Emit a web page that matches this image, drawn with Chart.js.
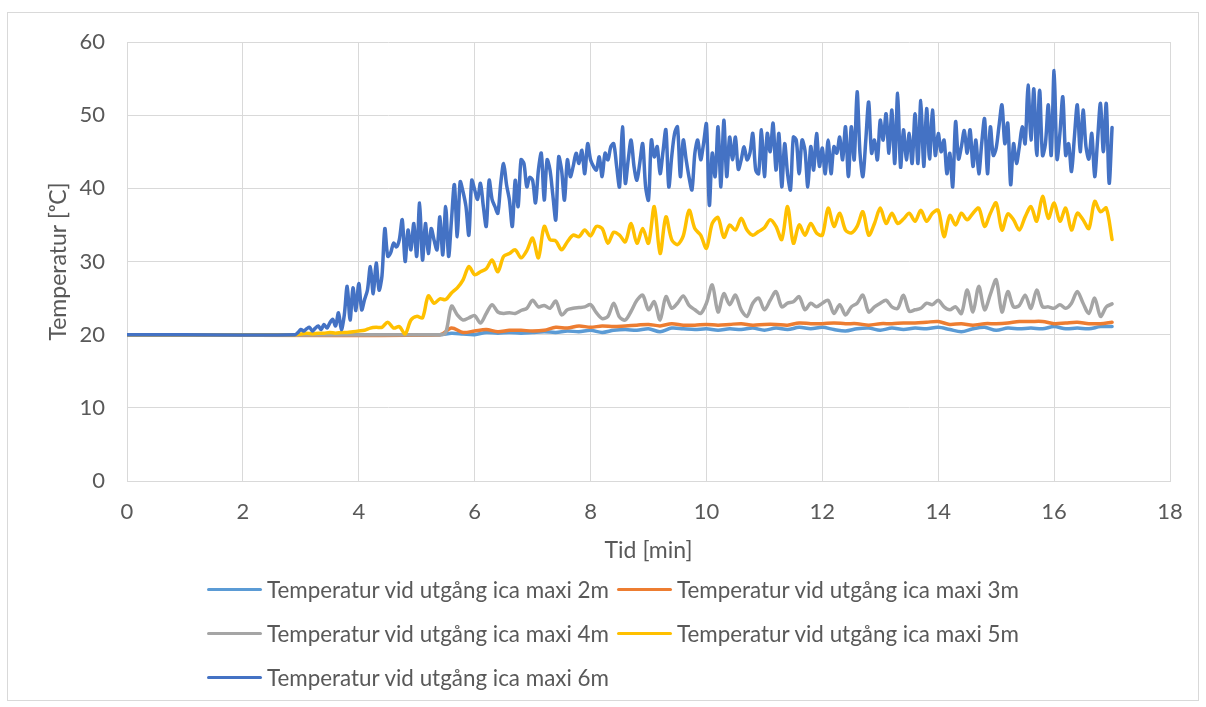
<!DOCTYPE html>
<html>
<head>
<meta charset="utf-8">
<title>Temperatur vid utgång ica maxi</title>
<script src="https://cdn.jsdelivr.net/npm/chart.js@4.4.0/dist/chart.umd.min.js"></script>
<style>
  html, body { margin: 0; padding: 0; background: #fff; }
  #wrap { position: relative; width: 1206px; height: 707px; overflow: hidden; }
  #frame { position: absolute; left: 7px; top: 12px; width: 1192px; height: 689px;
           border: 1px solid #d9d9d9; box-sizing: border-box; }
  canvas { position: absolute; left: 0; top: 0; }
  .item { position: absolute; display: flex; align-items: center; height: 30px;
          font-family: Lato, "Open Sans", sans-serif; font-size: 22.4px; color: #595959; white-space: nowrap; }
  .item .swatch { width: 55px; height: 3px; border-radius: 2px; margin-right: 5px; }
</style>
</head>
<body>
<div id="wrap">
  <div id="frame"></div>
  <canvas id="chart" width="1206" height="707"></canvas>
  <div id="legend"></div>
</div>
<script>
// series names, as in the legend
const seriesNames = [
  "Temperatur vid utgång ica maxi 2m",
  "Temperatur vid utgång ica maxi 3m",
  "Temperatur vid utgång ica maxi 4m",
  "Temperatur vid utgång ica maxi 5m",
  "Temperatur vid utgång ica maxi 6m"
];
const seriesColors = ["#5B9BD5", "#ED7D31", "#A5A5A5", "#FFC000", "#4472C4"];

// sampling of each series (minutes): first sample and spacing
const startTimes = [5.4, 5.4, 5.4, 2.9, 2.9];
const timeSteps = [0.2, 0.2, 0.1, 0.1, 0.05];

// temperatures (°C); all lines sit at 20 before their first sample
const temp2m = [
  20.0, 20.2, 20.1, 20.0, 20.3, 20.2, 20.3, 20.2, 20.3, 20.4,
  20.3, 20.5, 20.4, 20.6, 20.3, 20.6, 20.7, 20.6, 20.8, 20.4,
  20.9, 20.8, 20.7, 20.8, 20.6, 20.8, 20.7, 20.9, 20.6, 20.9,
  20.7, 21.0, 20.8, 21.0, 20.7, 20.5, 20.8, 20.9, 20.6, 20.9,
  20.7, 20.9, 20.8, 21.0, 20.7, 20.4, 20.8, 21.0, 20.6, 20.9,
  20.8, 20.9, 20.8, 21.1, 20.8, 20.9, 20.8, 21.1, 21.1
];
const temp3m = [
  20.0, 20.9, 20.3, 20.5, 20.7, 20.4, 20.6, 20.6, 20.5, 20.6,
  21.0, 20.9, 21.2, 21.0, 21.2, 21.1, 21.2, 21.3, 21.4, 21.2,
  21.5, 21.3, 21.3, 21.4, 21.3, 21.4, 21.5, 21.3, 21.4, 21.4,
  21.3, 21.6, 21.5, 21.5, 21.6, 21.5, 21.5, 21.3, 21.5, 21.5,
  21.6, 21.6, 21.7, 21.8, 21.4, 21.5, 21.3, 21.5, 21.5, 21.6,
  21.8, 21.8, 21.8, 21.5, 21.6, 21.7, 21.5, 21.5, 21.7
];
const temp4m = [
  20.0, 20.3, 23.9, 22.7, 22.0, 22.3, 22.6, 21.6, 22.9, 24.1,
  23.1, 22.9, 23.0, 22.9, 23.3, 23.6, 24.7, 23.8, 24.0, 23.6,
  24.6, 22.7, 23.4, 23.6, 23.7, 23.8, 24.1, 23.0, 22.2, 22.5,
  24.3, 22.4, 22.0, 23.2, 24.7, 25.4, 23.4, 24.5, 22.0, 25.2,
  23.6, 24.3, 25.3, 24.0, 23.4, 22.9, 24.3, 26.8, 23.1, 25.6,
  24.1, 25.4, 23.4, 22.5, 24.3, 25.0, 23.4, 24.7, 25.9, 23.8,
  24.3, 24.5, 25.2, 23.4, 24.3, 23.8, 24.3, 24.7, 22.9, 24.1,
  22.7, 23.8, 24.3, 25.4, 23.1, 23.8, 24.3, 24.7, 23.8, 23.6,
  25.4, 23.2, 23.4, 23.6, 24.3, 24.1, 24.7, 23.8, 23.4, 23.8,
  22.9, 26.1, 23.1, 26.6, 23.4, 25.5, 27.5, 23.1, 25.9, 23.8,
  24.0, 25.4, 23.6, 26.1, 23.8, 23.8, 23.6, 24.1, 23.6, 24.3,
  25.9, 24.3, 22.9, 25.0, 22.5, 23.8, 24.2
];
const temp5m = [
  20.0, 20.1, 20.2, 20.1, 20.2, 20.2, 20.3, 20.2, 20.3, 20.3,
  20.4, 20.5, 20.6, 20.9, 21.0, 21.0, 21.7, 20.9, 21.1, 20.1,
  22.0, 22.5, 22.3, 25.3, 24.3, 24.9, 24.8, 25.7, 26.4, 27.5,
  29.3, 28.2, 28.6, 29.0, 30.2, 28.6, 30.7, 31.1, 31.6, 30.5,
  31.5, 33.2, 30.5, 34.8, 33.0, 32.8, 31.6, 32.7, 33.6, 33.4,
  34.3, 33.5, 34.8, 34.5, 32.5, 34.0, 33.6, 32.7, 35.2, 32.5,
  34.5, 32.5, 37.5, 31.1, 36.1, 33.0, 32.3, 33.5, 37.0, 34.5,
  33.6, 31.8, 35.2, 36.0, 33.3, 35.0, 34.3, 35.9, 34.3, 33.6,
  34.1, 34.6, 35.7, 34.8, 33.0, 37.5, 32.5, 35.0, 33.6, 35.2,
  33.9, 33.6, 37.3, 34.8, 36.6, 34.3, 33.9, 34.8, 36.8, 33.6,
  35.2, 37.3, 35.2, 36.6, 35.2, 35.8, 36.6, 35.5, 37.0, 35.5,
  36.6, 37.0, 33.4, 36.3, 35.0, 36.6, 35.7, 36.6, 37.3, 34.8,
  36.6, 38.0, 34.3, 36.5, 35.7, 34.3, 36.1, 37.5, 35.5, 38.9,
  35.9, 38.0, 35.5, 37.3, 34.3, 36.6, 35.7, 34.5, 38.2, 36.8,
  37.3, 33.0
];
const temp6m = [
  20.0, 20.3, 20.7, 20.5, 20.8, 21.0, 20.5, 20.9, 21.2, 20.7, 21.4, 20.9,
  21.6, 22.1, 21.2, 23.0, 20.7, 22.7, 26.6, 22.0, 26.4, 23.3,
  27.0, 23.4, 24.8, 26.1, 29.3, 25.6, 29.8, 26.1, 28.0, 34.5,
  30.7, 31.2, 32.5, 32.0, 33.0, 35.7, 30.0, 34.3, 31.6, 35.2,
  30.7, 38.0, 30.2, 35.2, 31.1, 34.5, 32.9, 31.6, 36.1, 30.9,
  37.5, 30.7, 35.7, 40.5, 33.4, 40.9, 39.5, 37.5, 33.6, 41.1,
  39.8, 38.5, 40.7, 37.5, 34.8, 41.1, 38.5, 37.5, 36.6, 40.7,
  43.4, 40.5, 38.4, 34.8, 41.1, 37.5, 43.9, 43.4, 40.2, 41.5,
  41.1, 38.0, 42.5, 44.8, 38.4, 43.9, 42.5, 39.0, 35.7, 44.3,
  42.5, 38.4, 43.9, 41.6, 43.0, 44.8, 43.4, 45.2, 42.0, 46.1,
  43.9, 43.0, 42.5, 44.3, 41.6, 44.8, 43.9, 45.7, 46.1, 43.0,
  40.2, 48.4, 40.7, 43.9, 46.6, 43.0, 41.1, 43.5, 46.1, 40.2,
  38.4, 46.6, 44.3, 45.7, 42.0, 45.0, 48.0, 40.2, 44.3, 47.5,
  48.4, 41.6, 46.6, 43.9, 41.5, 39.8, 44.8, 46.6, 43.9, 46.1,
  48.8, 37.7, 44.8, 41.6, 48.4, 40.2, 49.3, 41.6, 47.0, 43.9,
  47.0, 42.6, 43.9, 45.7, 43.9, 44.8, 47.5, 42.5, 42.0, 48.0,
  41.6, 47.5, 45.0, 48.9, 42.5, 47.5, 40.2, 46.1, 42.0, 39.8,
  47.0, 46.6, 42.0, 46.6, 45.2, 40.2, 45.7, 42.5, 47.5, 43.0,
  45.5, 42.0, 46.6, 42.0, 45.7, 44.8, 47.0, 43.9, 48.4, 41.6,
  48.4, 43.9, 53.2, 44.8, 41.6, 46.6, 51.8, 44.8, 46.6, 43.9,
  49.3, 46.6, 50.2, 44.8, 50.7, 43.4, 53.0, 42.9, 48.0, 43.9,
  47.5, 43.4, 50.2, 43.4, 52.0, 43.0, 50.9, 44.0, 50.7, 44.5,
  47.5, 45.0, 46.6, 42.0, 44.8, 40.2, 49.1, 44.0, 45.7, 47.9,
  44.8, 48.0, 43.0, 46.6, 42.0, 46.1, 49.5, 42.0, 48.4, 44.5,
  45.5, 48.6, 51.4, 46.1, 48.9, 40.5, 46.1, 43.4, 45.7, 48.4,
  46.1, 54.1, 46.6, 53.6, 44.5, 53.4, 44.5, 46.1, 51.4, 44.5,
  56.1, 44.0, 47.5, 52.5, 44.5, 46.1, 42.3, 47.0, 51.4, 45.0,
  50.7, 45.7, 44.0, 47.5, 41.6, 46.6, 51.6, 45.0, 51.6, 40.7,
  48.3
];
const seriesValues = [temp2m, temp3m, temp4m, temp5m, temp6m];

// axis ticks
const xTicks = [0, 2, 4, 6, 8, 10, 12, 14, 16, 18];
const yTicks = [0, 10, 20, 30, 40, 50, 60];

const FONT = "Lato, 'Open Sans', sans-serif";
const TEXT = "#595959";
const GRID = "#d9d9d9";

function toPoints(values, start, step) {
  const pts = [{ x: xTicks[0], y: values[0] }]; // flat lead-in from t = 0
  values.forEach((v, i) => pts.push({ x: +(start + i * step).toFixed(3), y: v }));
  return pts;
}

const datasets = seriesNames.map((name, i) => ({
  label: name,
  data: toPoints(seriesValues[i], startTimes[i], timeSteps[i]),
  borderColor: seriesColors[i],
  backgroundColor: seriesColors[i],
  borderWidth: 3.5,
  pointRadius: 0,
  tension: 0.3,
  borderJoinStyle: "round",
  borderCapStyle: "round",
  fill: false,
  order: seriesNames.length - i // later series drawn on top, like Excel
}));

new Chart(document.getElementById("chart"), {
  type: "line",
  data: { datasets },
  options: {
    responsive: false,
    animation: false,
    layout: { padding: { left: 0, right: 36, top: 42, bottom: 143 } },
    plugins: { legend: { display: false }, tooltip: { enabled: false } },
    scales: {
      x: {
        type: "linear",
        min: xTicks[0],
        max: xTicks[xTicks.length - 1],
        ticks: { stepSize: 2, autoSkip: false, maxRotation: 0, padding: 18,
                 color: TEXT, font: { family: FONT, size: 22 } },
        grid: { color: GRID, lineWidth: 1, drawTicks: false },
        border: { color: GRID },
        title: { display: true, text: "Tid [min]", color: TEXT,
                 font: { family: FONT, size: 23 }, padding: { top: 0, bottom: 0 } },
        afterFit: s => { s.height = 83; }
      },
      y: {
        min: yTicks[0],
        max: yTicks[yTicks.length - 1],
        ticks: { stepSize: 10, padding: 22, color: TEXT, font: { family: FONT, size: 22 } },
        grid: { color: GRID, lineWidth: 1, drawTicks: false },
        border: { color: GRID },
        title: { display: true, text: "Temperatur [ᵒC]", color: TEXT,
                 font: { family: FONT, size: 23 }, padding: { top: 45, bottom: 0 } },
        afterFit: s => { s.width = 127; }
      }
    }
  }
});

// Excel-style legend: two columns, three rows under the plot
const legend = document.getElementById("legend");
const legendCols = [207, 617];
const legendRows = [589, 633, 677];
seriesNames.forEach((name, i) => {
  const el = document.createElement("div");
  el.className = "item";
  el.style.left = legendCols[i % 2] + "px";
  el.style.top = (legendRows[Math.floor(i / 2)] - 15) + "px";
  el.innerHTML = '<span class="swatch" style="background:' + seriesColors[i] + '"></span>' + name;
  legend.appendChild(el);
});
</script>
</body>
</html>
